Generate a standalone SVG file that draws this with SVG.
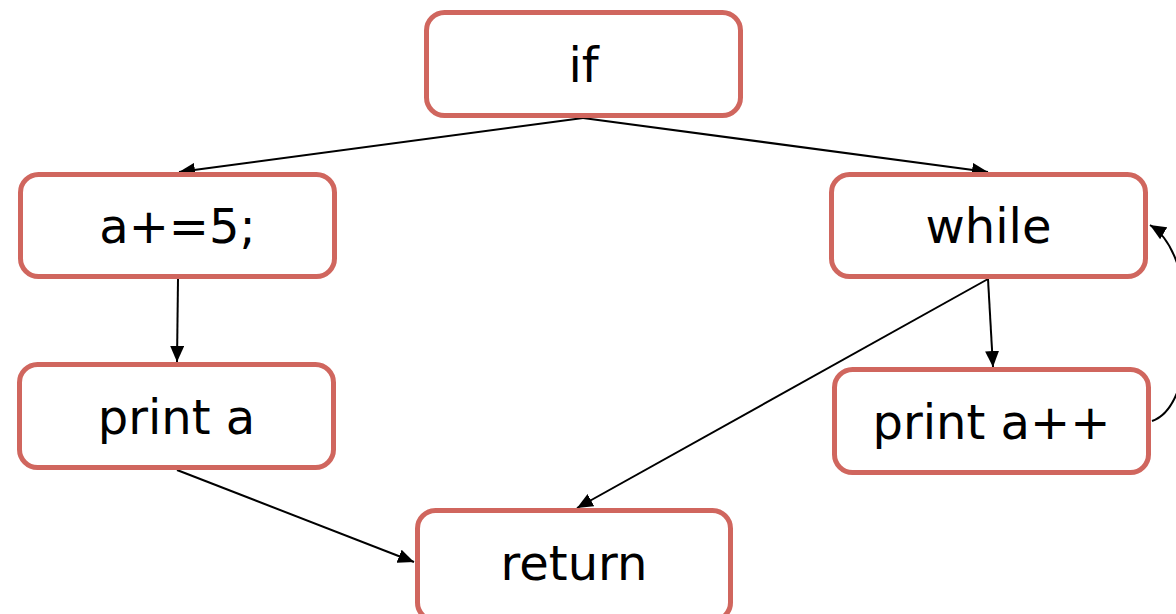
<svg xmlns="http://www.w3.org/2000/svg" width="1176" height="614" viewBox="0 0 1176 614">
<defs>
<style>
.box{fill:#fff;stroke:#d0665e;stroke-width:5}
.lbl{font-family:"DejaVu Sans",sans-serif;font-size:48px;fill:#000;text-anchor:middle}
.edge{fill:none;stroke:#000;stroke-width:2}
</style>
<marker id="arr" markerUnits="userSpaceOnUse" markerWidth="18" markerHeight="14" refX="16" refY="7" orient="auto">
<path d="M0,0 L16,7 L0,14 Z" fill="#000"/>
</marker>
</defs>
<rect width="1176" height="614" fill="#fff"/>
<g id="connectors">
<line class="edge" x1="583" y1="118" x2="179" y2="172" marker-end="url(#arr)"/>
<line class="edge" x1="583" y1="118" x2="988" y2="172" marker-end="url(#arr)"/>
<line class="edge" x1="178" y1="279" x2="177" y2="362" marker-end="url(#arr)"/>
<line class="edge" x1="988" y1="279" x2="993" y2="367" marker-end="url(#arr)"/>
<line class="edge" x1="988" y1="279" x2="577" y2="508" marker-end="url(#arr)"/>
<line class="edge" x1="177" y1="470" x2="414" y2="562" marker-end="url(#arr)"/>
<path class="edge" d="M1152,421 C1200,405 1200,255 1150,225" marker-end="url(#arr)"/>
</g>
<g id="node-if"><rect class="box" x="426.5" y="12.5" width="314" height="103" rx="18"/><text class="lbl" x="583.5" y="82">if</text></g>
<g id="node-a5"><rect class="box" x="20.5" y="174.5" width="314" height="102" rx="18"/><text class="lbl" x="177.5" y="243">a+=5;</text></g>
<g id="node-while"><rect class="box" x="831.5" y="174.5" width="314" height="102" rx="18"/><text class="lbl" x="988.5" y="243">while</text></g>
<g id="node-printa"><rect class="box" x="19.5" y="364.5" width="314" height="103" rx="18"/><text class="lbl" x="176.5" y="434">print a</text></g>
<g id="node-printapp"><rect class="box" x="834.5" y="369.5" width="314" height="103" rx="18"/><text class="lbl" x="991.5" y="439">print a++</text></g>
<g id="node-return"><rect class="box" x="417.5" y="510.5" width="313" height="110" rx="18"/><text class="lbl" x="574" y="580">return</text></g>
</svg>
